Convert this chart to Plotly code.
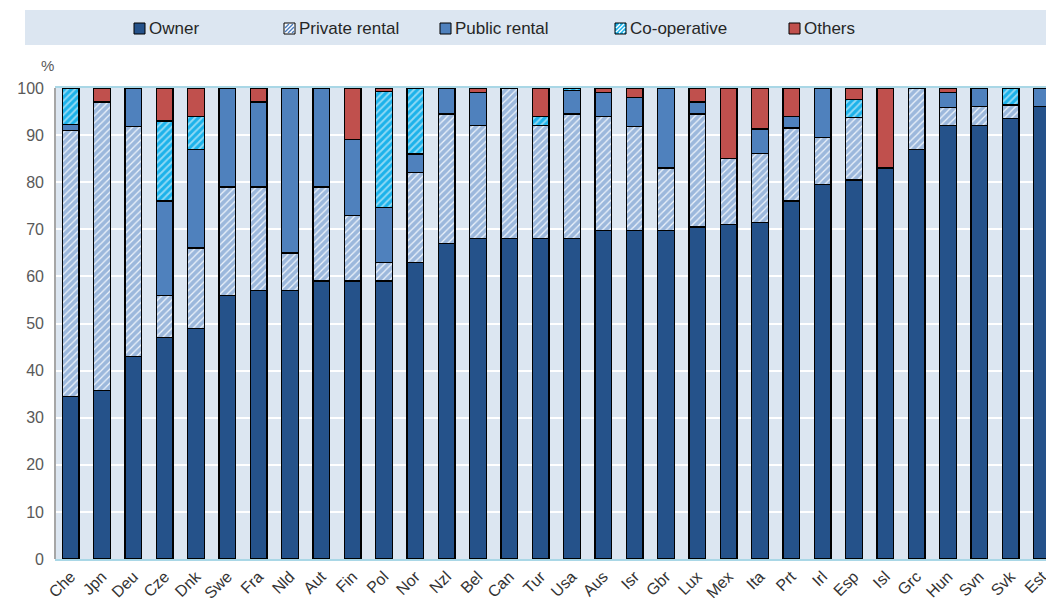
import plotly.graph_objects as go

countries = ["Che", "Jpn", "Deu", "Cze", "Dnk", "Swe", "Fra", "Nld", "Aut", "Fin", "Pol", "Nor",
             "Nzl", "Bel", "Can", "Tur", "Usa", "Aus", "Isr", "Gbr", "Lux", "Mex", "Ita", "Prt",
             "Irl", "Esp", "Isl", "Grc", "Hun", "Svn", "Svk", "Est"]

owner = [34.5, 35.8, 43.0, 47.0, 49.0, 56.0, 57.0, 57.0, 59.0, 59.0, 59.0, 63.0,
         67.0, 68.0, 68.0, 68.0, 68.0, 69.7, 69.8, 69.8, 70.5, 71.0, 71.5, 76.0,
         79.5, 80.5, 83.0, 87.0, 92.0, 92.0, 93.5, 96.0]
private_rental = [56.5, 61.2, 48.8, 9.0, 17.0, 23.0, 22.0, 8.0, 20.0, 14.0, 4.0, 19.0,
                  27.5, 24.0, 32.0, 24.0, 26.5, 24.2, 22.0, 13.2, 24.0, 14.0, 14.6, 15.5,
                  10.0, 13.3, 0.0, 13.0, 3.8, 4.0, 2.9, 0.0]
public_rental = [1.3, 0.0, 8.2, 20.0, 21.0, 21.0, 18.0, 35.0, 21.0, 16.0, 11.6, 4.0,
                 5.5, 7.0, 0.0, 0.0, 4.9, 5.2, 6.2, 17.0, 2.5, 0.0, 5.2, 2.4,
                 10.5, 0.0, 0.0, 0.0, 3.3, 4.0, 0.0, 4.0]
cooperative = [7.7, 0.0, 0.0, 17.0, 7.0, 0.0, 0.0, 0.0, 0.0, 0.0, 24.6, 14.0,
               0.0, 0.0, 0.0, 2.0, 0.6, 0.0, 0.0, 0.0, 0.0, 0.0, 0.0, 0.0,
               0.0, 3.8, 0.0, 0.0, 0.0, 0.0, 3.6, 0.0]
others = [0.0, 3.0, 0.0, 7.0, 6.0, 0.0, 3.0, 0.0, 0.0, 11.0, 0.8, 0.0,
          0.0, 1.0, 0.0, 6.0, 0.0, 0.9, 2.0, 0.0, 3.0, 15.0, 8.7, 6.1,
          0.0, 2.4, 17.0, 0.0, 0.9, 0.0, 0.0, 0.0]

series_names = ["Owner", "Private rental", "Public rental", "Co-operative", "Others"]
y_ticks = [0, 10, 20, 30, 40, 50, 60, 70, 80, 90, 100]

# ---- styling ----
W, H = 1046, 606
ML, MR, MT, MB = 55, 0, 88, 47
PW, PH = W - ML - MR, H - MT - MB

OWNER_C = "#25528a"
PUBLIC_C = "#4f81bd"
PRIV_FG = "#4a7bbd"
COOP_C = "#1cb2ea"
OTHERS_C = "#c0504d"

markers = [
    dict(color=OWNER_C),
    dict(color="#ffffff", pattern=dict(shape="/", fgcolor=PRIV_FG, bgcolor="#eef4fb",
                                        size=5, solidity=0.75, fillmode="overlay")),
    dict(color=PUBLIC_C),
    dict(color=COOP_C, pattern=dict(shape="/", fgcolor="#ffffff", bgcolor=COOP_C,
                                     size=5, solidity=0.4, fillmode="overlay")),
    dict(color=OTHERS_C),
]
values = [owner, private_rental, public_rental, cooperative, others]

fig = go.Figure()
for name, vals, mk in zip(series_names, values, markers):
    mk = dict(mk)
    mk["line"] = dict(color="#000000", width=1.3)
    fig.add_trace(go.Bar(x=countries, y=vals, name=name, marker=mk, width=0.53,
                         showlegend=False))


def px(x):
    return (x - ML) / PW


def py(y):
    return (H - MB - y) / PH


shapes = [
    dict(type="rect", xref="paper", yref="paper", x0=px(25), x1=px(1046), y0=py(45), y1=py(10),
         fillcolor="#dce6f1", line=dict(width=0), layer="below"),
    dict(type="line", xref="paper", yref="paper", x0=0, x1=0, y0=0, y1=1,
         line=dict(color="#a6a6a6", width=2)),
]
annotations = [
    dict(text="%", xref="paper", yref="paper", x=px(56), y=py(65), xanchor="right",
         yanchor="middle", showarrow=False, font=dict(size=15, color="#595959")),
]

# manual legend
leg_x = [134, 284, 440, 615, 789]
leg_cy = 28.5
sw = 11
fills = [OWNER_C, "#ffffff", PUBLIC_C, COOP_C, OTHERS_C]
stripe = [None, PRIV_FG, None, "#ffffff", None]
for i, name in enumerate(series_names):
    x0 = leg_x[i]
    y0 = leg_cy - sw / 2
    shapes.append(dict(type="rect", xref="paper", yref="paper", x0=px(x0), x1=px(x0 + sw),
                       y0=py(y0 + sw), y1=py(y0), fillcolor=fills[i],
                       line=dict(color="#000000", width=1)))
    if stripe[i]:
        segs = []
        for k in range(-sw + 2, sw, 4):
            C = x0 + y0 + sw + k
            xa = max(x0 + 1, C - (y0 + sw - 1))
            xb = min(x0 + sw - 1, C - y0 - 1)
            if xb - xa < 0.5:
                continue
            segs.append(f"M{px(xa)},{py(C - xa)} L{px(xb)},{py(C - xb)}")
        shapes.append(dict(type="path", xref="paper", yref="paper", path=" ".join(segs),
                           line=dict(color=stripe[i], width=1.4)))
    annotations.append(dict(text=name, xref="paper", yref="paper", x=px(x0 + sw + 2),
                            y=py(leg_cy), xanchor="left", yanchor="middle", showarrow=False,
                            font=dict(size=17, color="#262626")))

fig.update_layout(
    barmode="stack",
    width=W, height=H,
    margin=dict(l=ML, r=MR, t=MT, b=MB, autoexpand=False),
    paper_bgcolor="#ffffff",
    plot_bgcolor="#dce6f1",
    font=dict(family="Liberation Sans, Arial, sans-serif", size=16, color="#404040"),
    showlegend=False,
    xaxis=dict(range=[-0.5, 31.13], tickangle=-45, showgrid=False, automargin=False,
               showline=True, linecolor="#a9d7e6", linewidth=2, mirror=True,
               ticks="", tickfont=dict(size=16, color="#333333")),
    yaxis=dict(range=[0, 100], tickvals=y_ticks, showgrid=True, gridcolor="#ffffff",
               gridwidth=1.5, zeroline=False, showline=False, ticks="", automargin=False,
               ticklabelstandoff=10,
               tickfont=dict(size=16, color="#595959")),
    shapes=shapes,
    annotations=annotations,
)

fig.write_html(
    "out.html",
    config={"displayModeBar": False},
    post_script="document.body.style.margin='0';document.body.style.overflow='hidden';",
)
